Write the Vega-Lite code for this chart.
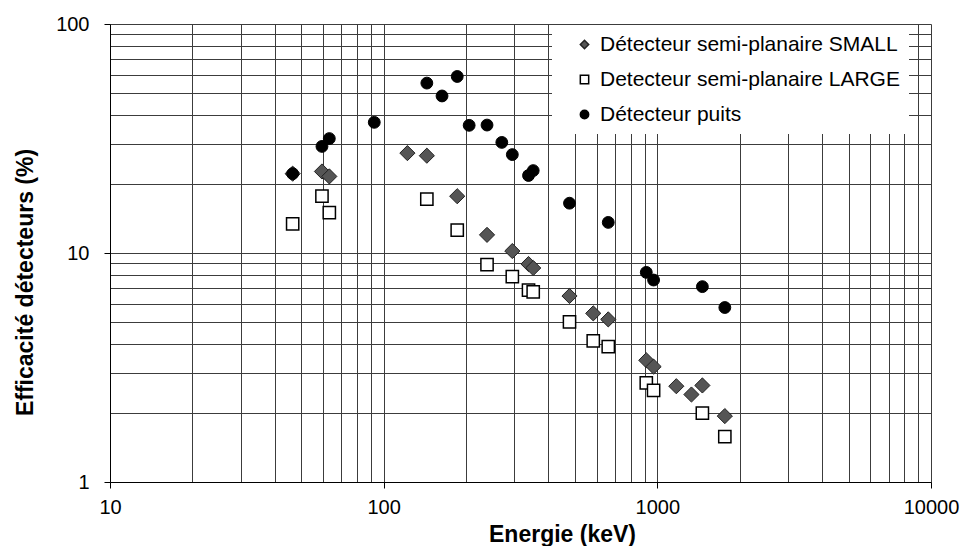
{
  "$schema": "https://vega.github.io/schema/vega-lite/v6.json",
  "width": 821,
  "height": 458,
  "autosize": {"type": "none"},
  "padding": {"left": 110, "top": 24, "right": 31, "bottom": 64},
  "background": "white",
  "config": {
    "font": "Liberation Sans",
    "view": {"stroke": null},
    "axis": {
      "gridColor": "#3c3c3c",
      "gridWidth": 1,
      "gridOpacity": 1,
      "domainColor": "#000",
      "domainWidth": 1,
      "tickColor": "#000",
      "tickSize": 6,
      "labelFont": "Liberation Sans",
      "labelFontSize": 20,
      "labelColor": "#000",
      "titleFont": "Liberation Sans",
      "titleFontSize": 23,
      "titleFontWeight": "bold",
      "titleColor": "#000"
    },
    "legend": {
      "orient": "none",
      "legendX": 442,
      "legendY": 1,
      "padding": 9,
      "fillColor": "white",
      "symbolSize": 70,
      "symbolOffset": 13,
      "labelOffset": 5,
      "rowPadding": 13,
      "labelFont": "Liberation Sans",
      "labelFontSize": 21,
      "labelColor": "#000",
      "labelLimit": 400
    }
  },
  "data": {
    "values": [
      {"E": 46.5, "eff": 22.2, "s": "Détecteur semi-planaire SMALL"},
      {"E": 59.5, "eff": 22.7, "s": "Détecteur semi-planaire SMALL"},
      {"E": 63.3, "eff": 21.6, "s": "Détecteur semi-planaire SMALL"},
      {"E": 122.1, "eff": 27.3, "s": "Détecteur semi-planaire SMALL"},
      {"E": 143.8, "eff": 26.6, "s": "Détecteur semi-planaire SMALL"},
      {"E": 185.7, "eff": 17.7, "s": "Détecteur semi-planaire SMALL"},
      {"E": 238.6, "eff": 12.0, "s": "Détecteur semi-planaire SMALL"},
      {"E": 295.2, "eff": 10.2, "s": "Détecteur semi-planaire SMALL"},
      {"E": 338.3, "eff": 8.95, "s": "Détecteur semi-planaire SMALL"},
      {"E": 351.9, "eff": 8.6, "s": "Détecteur semi-planaire SMALL"},
      {"E": 477.6, "eff": 6.49, "s": "Détecteur semi-planaire SMALL"},
      {"E": 583.2, "eff": 5.45, "s": "Détecteur semi-planaire SMALL"},
      {"E": 661.7, "eff": 5.13, "s": "Détecteur semi-planaire SMALL"},
      {"E": 911.2, "eff": 3.4, "s": "Détecteur semi-planaire SMALL"},
      {"E": 969.0, "eff": 3.19, "s": "Détecteur semi-planaire SMALL"},
      {"E": 1173.2, "eff": 2.62, "s": "Détecteur semi-planaire SMALL"},
      {"E": 1332.5, "eff": 2.41, "s": "Détecteur semi-planaire SMALL"},
      {"E": 1460.8, "eff": 2.64, "s": "Détecteur semi-planaire SMALL"},
      {"E": 1764.5, "eff": 1.94, "s": "Détecteur semi-planaire SMALL"},
      {"E": 46.5, "eff": 13.4, "s": "Detecteur semi-planaire LARGE"},
      {"E": 59.5, "eff": 17.7, "s": "Detecteur semi-planaire LARGE"},
      {"E": 63.3, "eff": 15.0, "s": "Detecteur semi-planaire LARGE"},
      {"E": 143.8, "eff": 17.2, "s": "Detecteur semi-planaire LARGE"},
      {"E": 185.7, "eff": 12.6, "s": "Detecteur semi-planaire LARGE"},
      {"E": 238.6, "eff": 8.89, "s": "Detecteur semi-planaire LARGE"},
      {"E": 295.2, "eff": 7.88, "s": "Detecteur semi-planaire LARGE"},
      {"E": 338.3, "eff": 6.89, "s": "Detecteur semi-planaire LARGE"},
      {"E": 351.9, "eff": 6.76, "s": "Detecteur semi-planaire LARGE"},
      {"E": 477.6, "eff": 5.0, "s": "Detecteur semi-planaire LARGE"},
      {"E": 583.2, "eff": 4.13, "s": "Detecteur semi-planaire LARGE"},
      {"E": 661.7, "eff": 3.9, "s": "Detecteur semi-planaire LARGE"},
      {"E": 911.2, "eff": 2.71, "s": "Detecteur semi-planaire LARGE"},
      {"E": 969.0, "eff": 2.51, "s": "Detecteur semi-planaire LARGE"},
      {"E": 1460.8, "eff": 2.0, "s": "Detecteur semi-planaire LARGE"},
      {"E": 1764.5, "eff": 1.58, "s": "Detecteur semi-planaire LARGE"},
      {"E": 46.5, "eff": 22.2, "s": "Détecteur puits"},
      {"E": 59.5, "eff": 29.2, "s": "Détecteur puits"},
      {"E": 63.3, "eff": 31.6, "s": "Détecteur puits"},
      {"E": 92.4, "eff": 37.2, "s": "Détecteur puits"},
      {"E": 143.8, "eff": 55.2, "s": "Détecteur puits"},
      {"E": 163.4, "eff": 48.5, "s": "Détecteur puits"},
      {"E": 185.7, "eff": 59.0, "s": "Détecteur puits"},
      {"E": 205.3, "eff": 36.1, "s": "Détecteur puits"},
      {"E": 238.6, "eff": 36.2, "s": "Détecteur puits"},
      {"E": 270.2, "eff": 30.4, "s": "Détecteur puits"},
      {"E": 295.2, "eff": 26.9, "s": "Détecteur puits"},
      {"E": 338.3, "eff": 21.8, "s": "Détecteur puits"},
      {"E": 351.9, "eff": 22.9, "s": "Détecteur puits"},
      {"E": 477.6, "eff": 16.5, "s": "Détecteur puits"},
      {"E": 661.7, "eff": 13.6, "s": "Détecteur puits"},
      {"E": 911.2, "eff": 8.23, "s": "Détecteur puits"},
      {"E": 969.0, "eff": 7.62, "s": "Détecteur puits"},
      {"E": 1460.8, "eff": 7.13, "s": "Détecteur puits"},
      {"E": 1764.5, "eff": 5.78, "s": "Détecteur puits"}
    ]
  },
  "encoding": {
    "x": {
      "field": "E",
      "type": "quantitative",
      "scale": {"type": "log", "domain": [10, 10000], "nice": false},
      "axis": {
        "title": "Energie (keV)",
        "titleX": 452,
        "titleY": 59,
        "titleAlign": "center",
        "titleBaseline": "alphabetic",
        "values": [10, 20, 30, 40, 50, 60, 70, 80, 90, 100, 200, 300, 400, 500, 600, 700, 800, 900, 1000, 2000, 3000, 4000, 5000, 6000, 7000, 8000, 9000, 10000],
        "labelExpr": "indexof([10, 100, 1000, 10000], datum.value) >= 0 ? format(datum.value, 'd') : ''",
        "tickOpacity": {"condition": {"test": "indexof([10, 100, 1000, 10000], datum.value) >= 0", "value": 1}, "value": 0},
        "labelPadding": 9,
        "labelOverlap": false,
        "labelFlush": false
      }
    },
    "y": {
      "field": "eff",
      "type": "quantitative",
      "scale": {"type": "log", "domain": [1, 100], "nice": false},
      "axis": {
        "title": "Efficacité détecteurs (%)",
        "titleX": -78,
        "titleY": 258,
        "titleAngle": -90,
        "titleAlign": "center",
        "titleBaseline": "alphabetic",
        "values": [1, 2, 3, 4, 5, 6, 7, 8, 9, 10, 20, 30, 40, 50, 60, 70, 80, 90, 100],
        "labelExpr": "indexof([1, 10, 100], datum.value) >= 0 ? format(datum.value, 'd') : ''",
        "tickOpacity": {"condition": {"test": "indexof([1, 10, 100], datum.value) >= 0", "value": 1}, "value": 0},
        "labelPadding": 15,
        "labelOverlap": false,
        "labelFlush": false
      }
    },
    "shape": {
      "field": "s",
      "type": "nominal",
      "scale": {
        "domain": ["Détecteur semi-planaire SMALL", "Detecteur semi-planaire LARGE", "Détecteur puits"],
        "range": ["diamond", "square", "circle"]
      },
      "legend": {"title": null}
    },
    "fill": {
      "field": "s",
      "type": "nominal",
      "scale": {
        "domain": ["Détecteur semi-planaire SMALL", "Detecteur semi-planaire LARGE", "Détecteur puits"],
        "range": ["#555555", "#ffffff", "#000000"]
      },
      "legend": {"title": null}
    },
    "stroke": {
      "field": "s",
      "type": "nominal",
      "scale": {
        "domain": ["Détecteur semi-planaire SMALL", "Detecteur semi-planaire LARGE", "Détecteur puits"],
        "range": ["#222222", "#000000", "#000000"]
      },
      "legend": {"title": null}
    }
  },
  "layer": [
    {
      "transform": [{"filter": "datum.s === 'Détecteur semi-planaire SMALL'"}],
      "mark": {"type": "point", "filled": true, "strokeWidth": 1, "opacity": 1, "size": 230}
    },
    {
      "transform": [{"filter": "datum.s === 'Detecteur semi-planaire LARGE'"}],
      "mark": {"type": "point", "filled": true, "strokeWidth": 1.5, "opacity": 1, "size": 150}
    },
    {
      "transform": [{"filter": "datum.s === 'Détecteur puits'"}],
      "mark": {"type": "point", "filled": true, "strokeWidth": 1, "opacity": 1, "size": 140}
    }
  ]
}
